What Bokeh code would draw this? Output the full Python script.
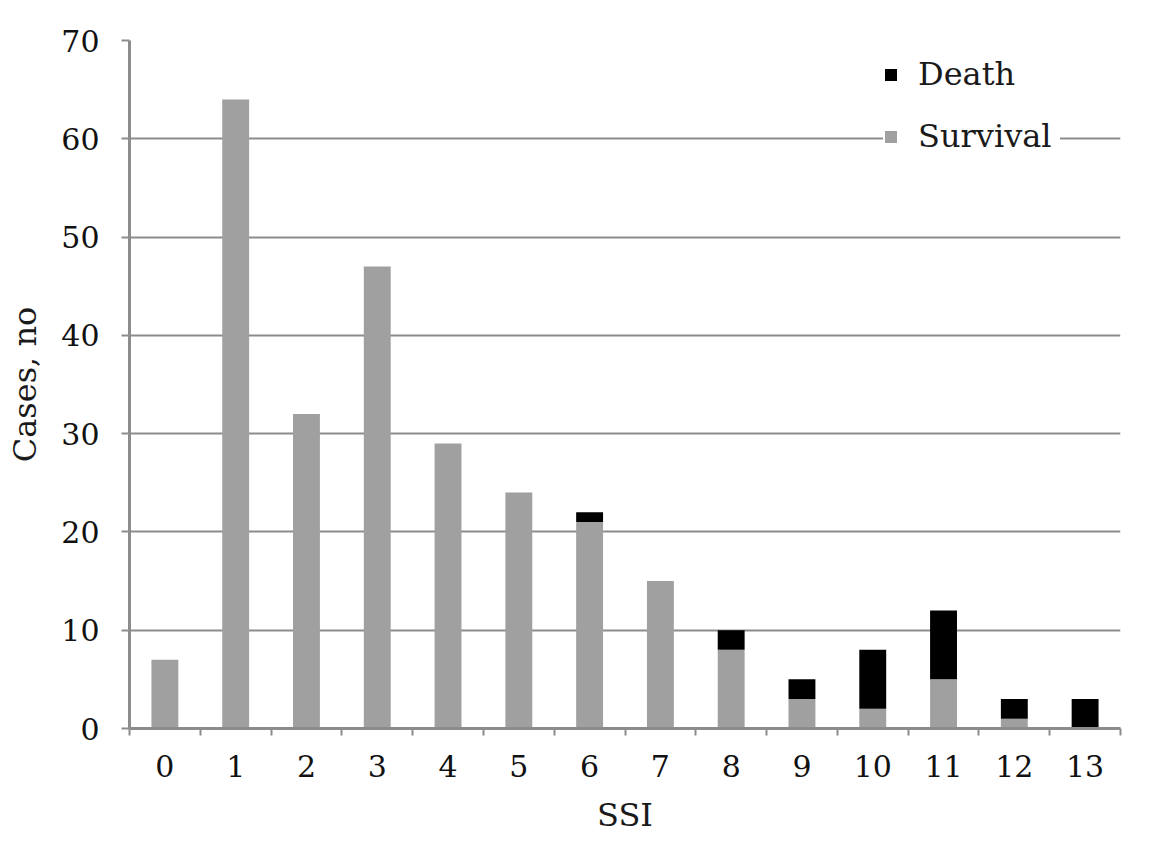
from bokeh.plotting import figure
from bokeh.models import ColumnDataSource, FixedTicker, Legend, LegendItem, Range1d
from bokeh.embed import file_html
from bokeh.resources import INLINE

ssi = list(range(14))
tick_labels = [str(i) for i in ssi]
survival = [7, 64, 32, 47, 29, 24, 21, 15, 8, 3, 2, 5, 1, 0]
death = [0, 0, 0, 0, 0, 0, 1, 0, 2, 2, 6, 7, 2, 3]

source = ColumnDataSource(data=dict(x=ssi, survival=survival, death=death))

GRID = "#8c8c8c"
SERIF = "DejaVu Serif"

p = figure(width=1148, height=836, output_backend="svg", toolbar_location=None,
           x_range=Range1d(-0.5, 13.5), y_range=Range1d(0, 70),
           min_border_left=129, min_border_right=28, min_border_top=40, min_border_bottom=105)
p.outline_line_color = None
p.background_fill_color = "white"
p.border_fill_color = "white"

rs = p.vbar_stack(["survival", "death"], x="x", width=0.38, source=source,
                  color=["#a0a0a0", "#000000"], line_width=0)

# axes
p.xaxis.ticker = FixedTicker(ticks=ssi, minor_ticks=[i - 0.5 for i in range(15)])
p.xaxis.major_label_overrides = {i: tick_labels[i] for i in ssi}
p.xaxis.major_tick_line_color = None
p.xaxis.minor_tick_in = 0
p.xaxis.minor_tick_out = 7
p.xaxis.minor_tick_line_color = GRID
p.xaxis.minor_tick_line_width = 2
p.yaxis.ticker = FixedTicker(ticks=list(range(0, 71, 10)))
p.yaxis.major_tick_in = 0
p.yaxis.major_tick_out = 8
p.yaxis.minor_tick_line_color = None
p.yaxis.major_tick_line_color = GRID
p.yaxis.major_tick_line_width = 2

for ax in (p.xaxis, p.yaxis):
    ax.axis_line_color = GRID
    ax.axis_line_width = 3
    ax.major_label_text_font = SERIF
    ax.major_label_text_font_size = "30px"
    ax.major_label_text_color = "#111111"
    ax.axis_label_text_font = SERIF
    ax.axis_label_text_font_size = "32px"
    ax.axis_label_text_font_style = "normal"
    ax.axis_label_text_color = "#1a1a1a"

p.xaxis.major_label_standoff = 19
p.yaxis.major_label_standoff = 22
p.xaxis.axis_label = "SSI"
p.yaxis.axis_label = "Cases, no"
p.xaxis.axis_label_standoff = 16
p.yaxis.axis_label_standoff = 14

p.xgrid.grid_line_color = None
p.ygrid.grid_line_color = GRID
p.ygrid.grid_line_width = 2

legend = Legend(items=[LegendItem(label="Death", renderers=[rs[1]]),
                       LegendItem(label="Survival", renderers=[rs[0]])],
                location=(754, 573), orientation="vertical",
                glyph_width=15, glyph_height=15, label_standoff=20,
                label_height=36, label_width=142, spacing=24, padding=10,
                label_text_font=SERIF, label_text_font_size="32px",
                label_text_color="#1a1a1a",
                border_line_color=None, background_fill_color="white",
                background_fill_alpha=1.0)
p.add_layout(legend, "center")

open("out.html", "w").write(file_html(p, INLINE))
